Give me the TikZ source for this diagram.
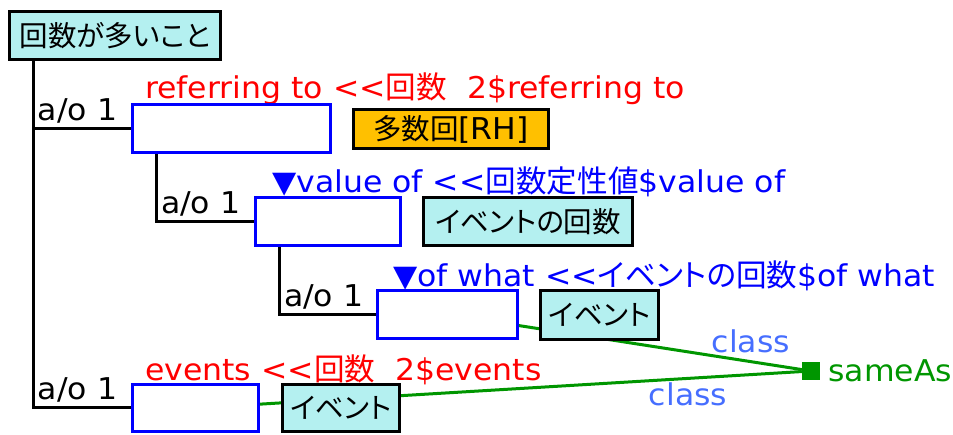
\documentclass[tikz,border=0pt]{standalone}
\usepackage{fontspec}
\setmainfont{DejaVu Sans}[FakeStretch=1.05]
\newfontfamily\jpn{Noto Sans CJK JP}[Scale=0.95,RawFeature=+palt]
\newfontfamily\jpl{Noto Sans CJK JP}[Scale=1.02,RawFeature=+palt]
\usetikzlibrary{positioning,backgrounds}
\definecolor{conceptfill}{RGB}{180,240,240}
\definecolor{rhfill}{RGB}{255,192,0}
\definecolor{samegreen}{RGB}{0,150,0}
\definecolor{classblue}{RGB}{70,110,255}
\newcommand{\dblless}{<\kern0pt<}

\begin{document}
\begin{tikzpicture}[x=1bp,y=-1bp,font=\fontsize{30bp}{33bp}\selectfont]
    \tikzset{
        concept/.style={draw, line width=3bp, fill=conceptfill, inner sep=0, align=center},
        slot/.style={draw=blue, line width=3bp, fill=white, inner sep=0},
        role/.style={anchor=base west, inner sep=0},
        ao/.style={pos=.5, anchor=south west, inner xsep=3bp, inner ysep=4bp},
        tree/.style={line width=3bp},
        same/.style={draw=samegreen, line width=3bp},
        classlbl/.style={text=classblue, inner sep=3bp}
    }
    \useasboundingbox (0,0) rectangle (953,435);

    % role labels first, the slots cover their descenders
    \draw node[role, red] (refto) at (145,99) {referring to \dblless{\jpl 回数}~~2\$referring to};
    \draw node[role, blue] (valof) at (272,193) {▼value of \dblless{\jpl 回数定性値}\$value of};
    \draw node[role, blue] (ofwhat) at (393,287) {▼of what \dblless{\jpl イベントの回数}\$of what};
    \draw node[role, red] (events) at (145,381) {events \dblless{\jpl 回数}~~2\$events};

    \draw node[concept, minimum width=211bp, minimum height=48bp] (top) at (115,35.5) {\jpn 回数が多いこと};
    \draw node[slot, minimum width=198bp, minimum height=48bp] (b1) at (231.5,128.5) {};
    \draw node[concept, fill=rhfill, minimum width=195bp, minimum height=39bp] (rh) at (451,129) {{\jpn 多数回}[RH]};
    \draw node[slot, minimum width=145bp, minimum height=48bp] (b2) at (328,221.5) {};
    \draw node[concept, minimum width=209bp, minimum height=48bp] (c2) at (528,221.5) {\jpn イベントの回数};
    \draw node[slot, minimum width=140bp, minimum height=48bp] (b3) at (447.5,314.5) {};
    \draw node[concept, minimum width=118bp, minimum height=49bp] (c3) at (599.5,315) {\jpn イベント};
    \draw node[slot, minimum width=126bp, minimum height=47bp] (b4) at (195.5,408) {};
    \draw node[concept, minimum width=117bp, minimum height=47bp] (c4) at (341,408) {\jpn イベント};

    \draw node[fill=samegreen, minimum size=18bp, inner sep=0] (sq) at (811,371) {};
    \draw node[right=8bp of sq, text=samegreen, inner sep=0] (sameas) {sameAs};

    \draw[tree] (top.south west) ++(25.5,0) |- node[ao] {a/o 1} (b1.west);
    \draw[tree] (top.south west) ++(25.5,0) |- node[ao] {a/o 1} (b4.west);
    \draw[tree] (b1.south west) ++(25.5,0) |- node[ao] {a/o 1} (b2.west);
    \draw[tree] (b2.south west) ++(25.5,0) |- node[ao] {a/o 1} (b3.west);

    \begin{scope}[on background layer]
        \draw[same] (b3) -- node[pos=.82, above=4bp, classlbl] {class} (sq);
        \draw[same] (b4) -- node[pos=.79, below, classlbl] {class} (sq);
    \end{scope}
\end{tikzpicture}
\end{document}
